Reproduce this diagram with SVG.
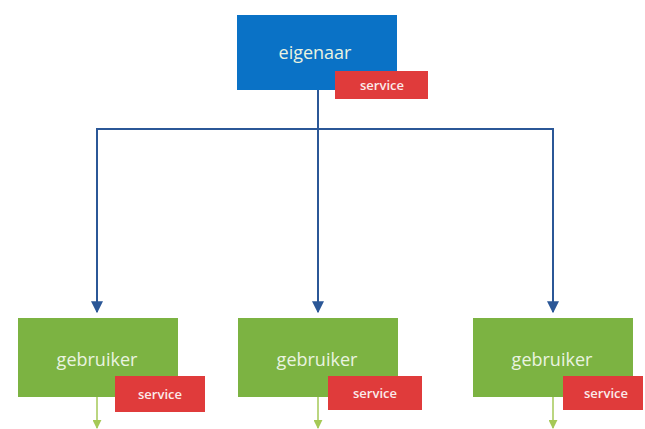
<svg xmlns="http://www.w3.org/2000/svg" width="645" height="429" viewBox="0 0 645 429">
<defs>
<style>
.owner{fill:#0a72c6}
.user{fill:#7cb342}
.svc{fill:#e03b3b}
.lbl{font-family:"Open Sans","Liberation Sans",sans-serif;fill:#eaf3e0;text-anchor:middle}
.big{font-size:18px}
.small{font-size:13px;font-weight:600;fill:#fbeaea}
.conn{stroke:#2b5797;stroke-width:2;fill:none}
.down{stroke:#a5c957;stroke-width:1.5;fill:none}
</style>
<marker id="ah" viewBox="0 0 10 10" refX="9" refY="5" markerWidth="6" markerHeight="6" orient="auto">
<path d="M0,0 L10,5 L0,10 Z" fill="#2b5797"/>
</marker>
<marker id="gh" viewBox="0 0 10 10" refX="9" refY="5" markerWidth="6" markerHeight="6" orient="auto">
<path d="M0,0 L10,5 L0,10 Z" fill="#a5c957"/>
</marker>
</defs>
<rect width="645" height="429" fill="#ffffff"/>
<g id="connectors">
<path class="conn" d="M318,90 V312"/>
<path class="conn" d="M97,129 H553"/>
<path class="conn" d="M97,128 V312" marker-end="url(#ah)"/>
<path class="conn" d="M318,129 V312" marker-end="url(#ah)"/>
<path class="conn" d="M553,128 V312" marker-end="url(#ah)"/>
<path class="down" d="M97,397 V428" marker-end="url(#gh)"/>
<path class="down" d="M318,397 V428" marker-end="url(#gh)"/>
<path class="down" d="M553,397 V428" marker-end="url(#gh)"/>
</g>
<g id="eigenaar">
<rect class="owner" x="237" y="15" width="160" height="75"/>
<text class="lbl big" x="315" y="59" fill="#e8f1fb">eigenaar</text>
<rect class="svc" x="335" y="71" width="93" height="28"/>
<text class="lbl small" x="382" y="90">service</text>
</g>
<g id="gebruiker1">
<rect class="user" x="18" y="318" width="160" height="79"/>
<text class="lbl big" x="97" y="366">gebruiker</text>
<rect class="svc" x="115" y="376" width="90" height="36"/>
<text class="lbl small" x="160" y="399">service</text>
</g>
<g id="gebruiker2">
<rect class="user" x="238" y="318" width="160" height="79"/>
<text class="lbl big" x="317" y="366">gebruiker</text>
<rect class="svc" x="328" y="376" width="94" height="34"/>
<text class="lbl small" x="375" y="398">service</text>
</g>
<g id="gebruiker3">
<rect class="user" x="473" y="318" width="160" height="79"/>
<text class="lbl big" x="552" y="366">gebruiker</text>
<rect class="svc" x="563" y="376" width="80" height="34"/>
<text class="lbl small" x="606" y="398">service</text>
</g>
</svg>
